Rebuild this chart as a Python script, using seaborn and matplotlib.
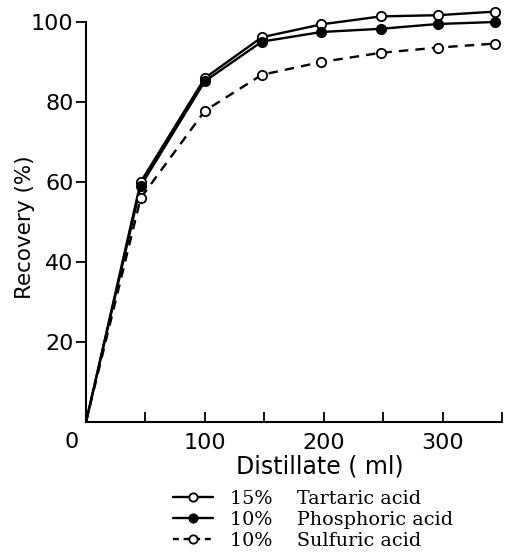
import numpy as np
import pandas as pd
import matplotlib
matplotlib.use("Agg")
import matplotlib.pyplot as plt
import seaborn as sns
from matplotlib.lines import Line2D

# -------------------------------
# Data
# -------------------------------
distillate = [0, 46, 100, 148, 198, 248, 296, 344]
tartaric = [0, 60, 86, 96.2, 99.4, 101.4, 101.7, 102.6]
phosphoric = [0, 59, 85.2, 95.1, 97.5, 98.3, 99.5, 100.0]
sulfuric = [0, 56, 77.8, 86.8, 90.0, 92.3, 93.6, 94.6]

series_names = ["15%    Tartaric acid", "10%    Phosphoric acid", "10%    Sulfuric acid"]

x_ticks = [50, 100, 150, 200, 250, 300, 350]
x_ticklabels = ["", "100", "", "200", "", "300", ""]
y_ticks = [20, 40, 60, 80, 100]

sns.set_style("white")
plt.rcParams["font.family"] = ["DejaVu Sans"]
plt.rcParams["text.color"] = "black"
plt.rcParams["axes.labelcolor"] = "black"
plt.rcParams["xtick.color"] = "black"
plt.rcParams["ytick.color"] = "black"

fig = plt.figure(figsize=(5.07, 5.60), dpi=100)
ax = fig.add_axes([86 / 507, 1 - 422 / 560, 416 / 507, 420 / 560])

styles = [
    dict(y=tartaric, mfc="white", ls="-", lls="-"),
    dict(y=phosphoric, mfc="black", ls="-", lls="-"),
    dict(y=sulfuric, mfc="white", ls=(0, (4, 3)), lls=(0, (2.5, 2))),
]

handles = []
for s, name in zip(styles, series_names):
    xs = distillate[1:]
    ys = s["y"][1:]
    # line from origin through all points
    sns.lineplot(x=distillate, y=s["y"], ax=ax, color="black", lw=1.7,
                 linestyle=s["ls"], sort=False)
    sns.scatterplot(x=xs, y=ys, ax=ax, s=45, color=s["mfc"],
                    edgecolor="black", linewidth=1.3, zorder=5)
    handles.append(Line2D([], [], color="black", lw=1.7, linestyle=s["lls"],
                          marker="o", markersize=6, markerfacecolor=s["mfc"],
                          markeredgecolor="black", markeredgewidth=1.3))

ax.set_xlim(0, 348)
ax.set_ylim(0, 105)
ax.spines["left"].set_bounds(0, 100)
ax.spines["bottom"].set_bounds(0, 350)
sns.despine(ax=ax)
for sp in ["left", "bottom"]:
    ax.spines[sp].set_linewidth(1.5)
    ax.spines[sp].set_color("black")

ax.set_xticks(x_ticks)
ax.set_xticklabels(x_ticklabels)
ax.set_yticks(y_ticks)
ax.tick_params(axis="x", direction="in", length=7, width=1.3, pad=8,
               labelsize=16, bottom=True)
ax.tick_params(axis="y", direction="out", length=7, width=1.3, pad=2,
               labelsize=16, left=True)
ax.text(-0.034, -0.024, "0", transform=ax.transAxes, fontsize=16,
        ha="center", va="top")

ax.set_ylabel("Recovery (%)", fontsize=15.5)
ax.yaxis.set_label_coords(-0.123, 0.465)
ax.set_xlabel("Distillate ( ml)", fontsize=17)
ax.xaxis.set_label_coords(0.5625, -0.078)

fig.legend(handles=handles, labels=series_names, loc="upper left",
           bbox_to_anchor=(173 / 507, 1 - 490 / 560), frameon=False,
           prop={"family": "DejaVu Serif", "size": 13.8},
           handlelength=2.1, handletextpad=0.85, labelspacing=0.15,
           borderpad=0, borderaxespad=0)

fig.savefig("out.png", dpi=100)
